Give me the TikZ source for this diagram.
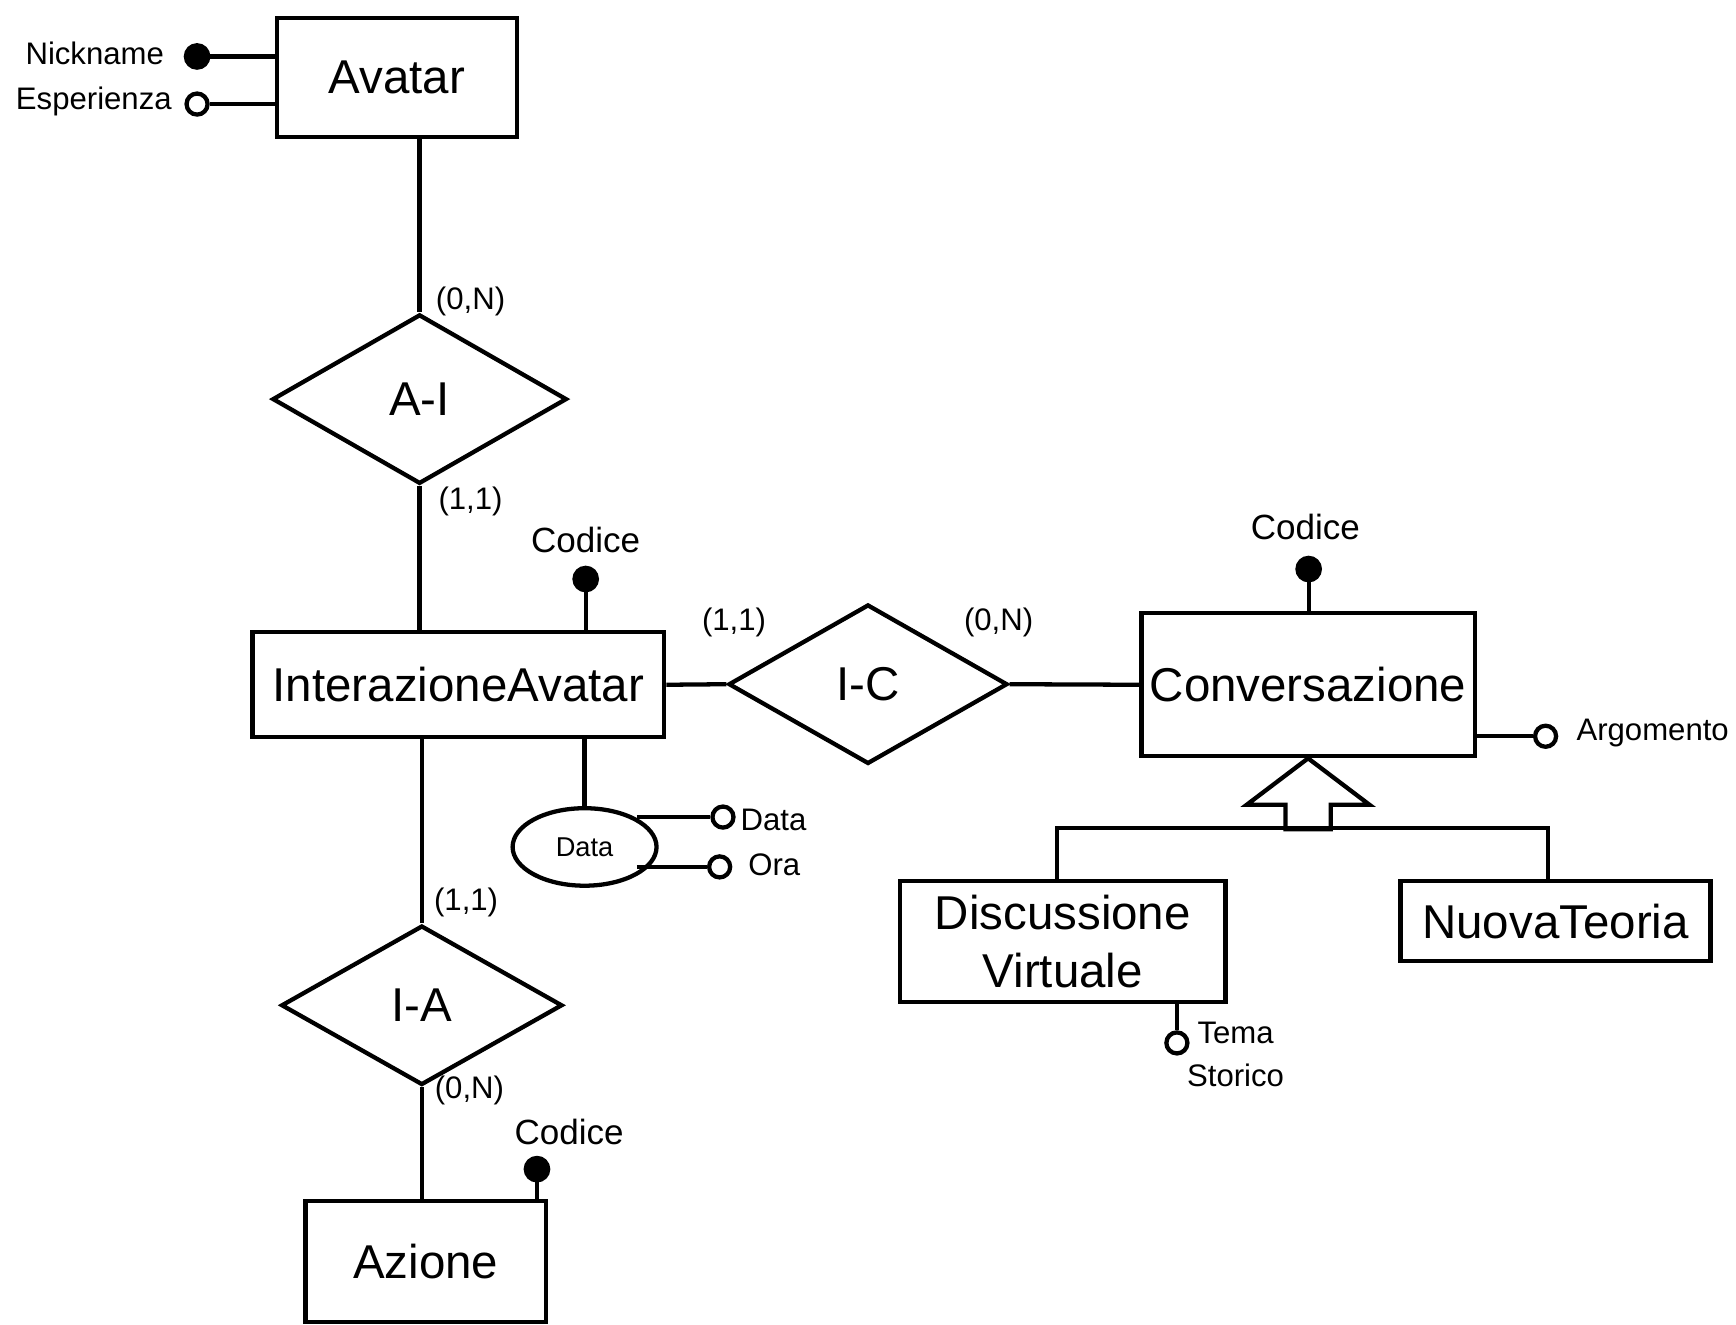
\documentclass[tikz,border=0pt]{standalone}
\usepackage{fontspec}
\setmainfont{Liberation Sans}
\usetikzlibrary{shapes.geometric}
\tikzset{
  ent/.style={rectangle,draw,inner sep=0pt,align=center,font=\fontsize{12.2}{14.8}\selectfont},
  rel/.style={diamond,draw,inner sep=0pt,font=\fontsize{12.2}{14.8}\selectfont},
  keyd/.style={circle,draw,fill=black,line width=0.6pt,minimum size=0.22cm,inner sep=0pt},
  attd/.style={circle,draw,fill=white,minimum size=0.19cm,inner sep=0pt},
  card/.style={inner sep=0pt,font=\fontsize{8}{9.6}\selectfont},
  lbl/.style={inner sep=0pt,align=center,font=\fontsize{8}{11.1}\selectfont},
  codl/.style={inner sep=0pt,font=\fontsize{9}{11}\selectfont}
}
\begin{document}
\begin{tikzpicture}[line width=1.1pt]
\useasboundingbox (0,0) rectangle (15.68,-11.96);
\node[ent,minimum width=2.17cm,minimum height=1.08cm] (avatar) at (3.585,-0.70) {Avatar};
\node[ent,minimum width=3.72cm,minimum height=0.95cm] (inter) at (4.14,-6.185) {InterazioneAvatar};
\node[ent,minimum width=3.01cm,minimum height=1.29cm] (conv) at (11.815,-6.185) {Conversazione};
\node[ent,minimum width=2.17cm,minimum height=1.09cm] (azione) at (3.845,-11.395) {Azione};
\node[ent,minimum width=2.94cm,minimum height=1.09cm] (disc) at (9.60,-8.505) {Discussione\\Virtuale};
\node[ent,minimum width=2.80cm,minimum height=0.72cm] (nuova) at (14.05,-8.32) {NuovaTeoria};
\node[rel,minimum width=2.66cm,minimum height=1.53cm] (relAI) at (3.79,-3.605) {A-I};
\node[rel,minimum width=2.52cm,minimum height=1.44cm] (relIC) at (7.84,-6.18) {I-C};
\node[rel,minimum width=2.54cm,minimum height=1.44cm] (relIA) at (3.81,-9.08) {I-A};
\node[ellipse,draw,minimum width=1.30cm,minimum height=0.70cm,inner sep=0pt,font=\fontsize{7}{8}\selectfont] (dataE) at (5.28,-7.65) {Data};

\node[card] (cAIa) at (4.25,-2.72) {(0,N)};
\node[card] (cAIb) at (4.25,-4.53) {(1,1)};
\node[card] (cICa) at (6.63,-5.62) {(1,1)};
\node[card] (cICb) at (9.02,-5.62) {(0,N)};
\node[card] (cIAa) at (4.21,-8.15) {(1,1)};
\node[card] (cIAb) at (4.24,-9.85) {(0,N)};

\node[keyd] (nick) at (1.78,-0.51) {};
\node[lbl,anchor=east] (nickT) at (1.50,-0.48) {Nickname};
\node[attd] (esp) at (1.78,-0.94) {};
\node[lbl,anchor=east] (espT) at (1.57,-0.92) {Esperienza};
\node[keyd] (cod1) at (5.29,-5.23) {};
\node[codl] (cod1T) at (5.29,-4.88) {Codice};
\node[keyd] (cod2) at (11.82,-5.14) {};
\node[codl] (cod2T) at (11.79,-4.76) {Codice};
\node[keyd] (cod3) at (4.85,-10.56) {};
\node[codl] (cod3T) at (5.14,-10.22) {Codice};
\node[attd] (argo) at (13.96,-6.65) {};
\node[lbl,anchor=west] (argoT) at (14.22,-6.62) {Argomento};
\node[attd] (tema) at (10.63,-9.42) {};
\node[lbl] (temaT) at (11.16,-9.525) {Tema\\Storico};
\node[attd] (datt) at (6.53,-7.38) {};
\node[lbl,anchor=west] (dattT) at (6.67,-7.41) {Data};
\node[attd] (ora) at (6.50,-7.83) {};
\node[lbl,anchor=west] (oraT) at (6.74,-7.81) {Ora};

\coordinate (isaL) at (9.55,-7.48);
\coordinate (isaR) at (13.98,-7.48);

\draw (nick) -- (nick -| avatar.west);
\draw (esp) -- (esp -| avatar.west);
\draw (relAI.north |- avatar.south) -- (relAI.north);
\draw (relAI.south) -- (relAI.south |- inter.north);
\draw (relIA.north |- inter.south) -- (relIA.north);
\draw (relIA.south) -- (relIA.south |- azione.north);
\draw (inter.east) -- (relIC.west);
\draw (relIC.east) -- (conv.west);
\foreach \k/\e in {cod1/inter,cod2/conv,cod3/azione}{\draw (\k) -- (\k |- \e.north);}
\draw (argo -| conv.east) -- (argo);
\draw (tema |- disc.south) -- (tema);
\draw (dataE.north |- inter.south) -- (dataE.north);
\draw (datt -| dataE.north east) -- (datt);
\draw (ora -| dataE.south east) -- (ora);
\draw[line join=miter] (conv.south) -- ++(-0.555,-0.42) -- ++(0.35,0) -- ++(0,-0.22)
  -- ++(0.41,0) -- ++(0,0.22) -- ++(0.35,0) -- cycle;
\draw (isaL |- disc.north) -- (isaL) -- (isaR) -- (isaR |- nuova.north);
\end{tikzpicture}
\end{document}
